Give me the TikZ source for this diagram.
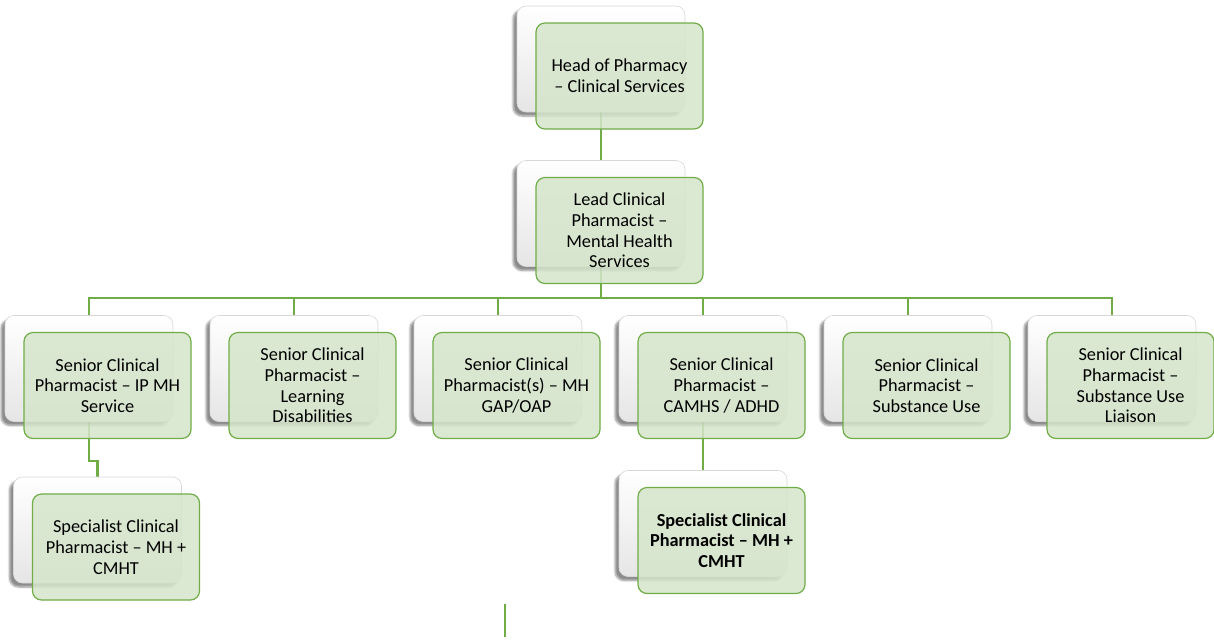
\documentclass[tikz,border=0pt]{standalone}
\usepackage{fontspec}
\setmainfont{Carlito}
\usetikzlibrary{shadows.blur}
\definecolor{gline}{RGB}{112,173,71}
\definecolor{gfill}{RGB}{213,229,203}
\definecolor{wedge}{RGB}{215,215,215}
\tikzset{
  backbox/.style={draw=wedge, line width=0.6pt, rounded corners=9pt, top color=white, bottom color=black!10,
    minimum width=168pt, minimum height=106pt, inner sep=0pt,
    blur shadow={shadow xshift=-4pt, shadow yshift=-4pt, shadow blur steps=6, shadow opacity=45}},
  frontbox/.style={draw=gline, line width=1.2pt, rounded corners=9pt, fill=gfill, fill opacity=0.85, text opacity=1,
    minimum width=167pt, minimum height=106pt, inner sep=0pt, align=center,
    font=\fontsize{18.3}{20.7}\selectfont},
  conn/.style={draw=gline, line width=2.8pt}
}
\newcommand{\orgbox}[4]{%
  \node[backbox] (#1) at (#2,#3) {};
  \node[frontbox] (#1g) at (#2+18.5,#3+17) {#4};
}
\begin{document}
\begin{tikzpicture}[x=1pt,y=-1pt]
\useasboundingbox (0,0) rectangle (1214,641);
% connector anchor coordinates
\coordinate (bus) at (601,298);
\coordinate (jog) at (89,461);
\coordinate (st1) at (505,604);
\coordinate (st2) at (505,637);
\coordinate (hc) at (601,59);
\coordinate (lc) at (601,213.5);
\coordinate (s1c) at (89,368.5);
\coordinate (s2c) at (294,368.5);
\coordinate (s3c) at (498,368.5);
\coordinate (s4c) at (703,368.5);
\coordinate (s5c) at (908,368.5);
\coordinate (s6c) at (1112,368.5);
\coordinate (c1c) at (97.5,530);
\coordinate (c2c) at (703,523.5);
% connectors
\draw[conn] (hc) -- (lc);
\draw[conn] (lc) -- (bus) -| (s1c);
\draw[conn] (bus) -| (s2c);
\draw[conn] (bus) -| (s3c);
\draw[conn] (bus) -| (s4c);
\draw[conn] (bus) -| (s5c);
\draw[conn] (bus) -| (s6c);
\draw[conn] (s1c) -- (jog) -| (c1c);
\draw[conn] (s4c) -- (c2c);
\draw[conn] (st1) -- (st2);
% boxes
\orgbox{h}{601}{59}{Head of Pharmacy\\– Clinical Services}
\orgbox{l}{601}{213.5}{Lead Clinical\\Pharmacist –\\Mental Health\\Services}
\orgbox{s1}{89}{368.5}{Senior Clinical\\Pharmacist – IP MH\\Service}
\orgbox{s2}{294}{368.5}{Senior Clinical\\Pharmacist –\\Learning\\Disabilities}
\orgbox{s3}{498}{368.5}{Senior Clinical\\Pharmacist(s) – MH\\GAP/OAP}
\orgbox{s4}{703}{368.5}{Senior Clinical\\Pharmacist –\\CAMHS / ADHD}
\orgbox{s5}{908}{368.5}{Senior Clinical\\Pharmacist –\\Substance Use}
\orgbox{s6}{1112}{368.5}{Senior Clinical\\Pharmacist –\\Substance Use\\Liaison}
\orgbox{c1}{97.5}{530}{Specialist Clinical\\Pharmacist – MH +\\CMHT}
\orgbox{c2}{703}{523.5}{\bfseries Specialist Clinical\\\bfseries Pharmacist – MH +\\\bfseries CMHT}
\end{tikzpicture}
\end{document}
